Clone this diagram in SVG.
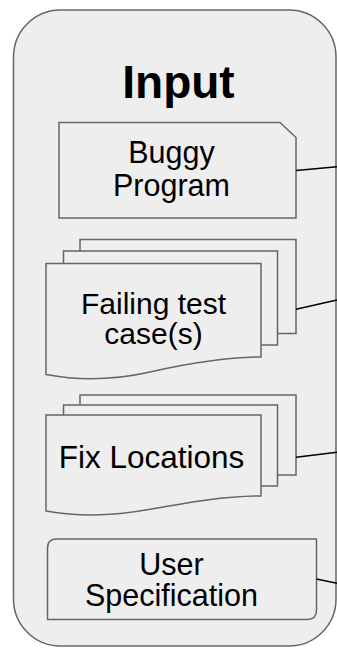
<svg xmlns="http://www.w3.org/2000/svg" width="337" height="649" viewBox="0 0 337 649">
  <style>
    .frame { fill: #eeeeee; stroke: #666666; stroke-width: 1.5; }
    .shape { fill: #eeeeee; stroke: #666666; stroke-width: 1.5; stroke-linejoin: miter; }
    .label { font-family: "Liberation Sans", Arial, Helvetica, sans-serif; font-size: 30.5px; fill: #000000; text-anchor: middle; }
    .title { font-family: "Liberation Sans", Arial, Helvetica, sans-serif; font-size: 46px; font-weight: bold; fill: #000000; text-anchor: middle; }
    .edge { fill: none; stroke: #000000; stroke-width: 1.4; }
  </style>

  <!-- Input container -->
  <g id="input-group">
    <rect class="frame" x="13.5" y="10" width="322.5" height="636" rx="47" ry="47"/>
    <text class="title" x="178.5" y="98">Input</text>
  </g>

  <!-- Buggy Program: card with a clipped top-right corner -->
  <g id="buggy-program">
    <path class="shape" d="M59,122.5 H280 L296,137.5 V218 H59 Z"/>
    <text class="label" x="171.5" y="163">Buggy</text>
    <text class="label" x="171.5" y="195.5">Program</text>
  </g>

  <!-- Failing test case(s): stacked documents -->
  <g id="failing-tests">
    <rect class="shape" x="80" y="239.5" width="216" height="94"/>
    <rect class="shape" x="63.5" y="251" width="214" height="94"/>
    <path class="shape" d="M46,263.5 H261 V357 C225,357 190,363 150,372 C110,381 75,380 46,374.5 Z"/>
    <text class="label" x="153.5" y="314" style="font-size:30px">Failing test</text>
    <text class="label" x="153.5" y="344" style="font-size:30px">case(s)</text>
  </g>

  <!-- Fix Locations: stacked documents -->
  <g id="fix-locations">
    <rect class="shape" x="80" y="395" width="216" height="80"/>
    <rect class="shape" x="63.5" y="405" width="214" height="81"/>
    <path class="shape" d="M46,415 H261 V496 C225,496 190,502 150,509.3 C110,516.8 75,516 46,511 Z"/>
    <text class="label" x="151.5" y="467.5" style="font-size:31.5px">Fix Locations</text>
  </g>

  <!-- User Specification -->
  <g id="user-specification">
    <path class="shape" d="M56.5,539 H316.5 V610 Q316.5,619.5 307,619.5 H47.5 V548 Q47.5,539 56.5,539 Z"/>
    <text class="label" x="171.5" y="574.5">User</text>
    <text class="label" x="171.5" y="605.5">Specification</text>
  </g>

  <!-- Outgoing connectors -->
  <g id="connectors">
    <line class="edge" x1="296" y1="170.5" x2="337" y2="166.8"/>
    <line class="edge" x1="296" y1="309.3" x2="337" y2="300"/>
    <line class="edge" x1="296" y1="457.3" x2="337" y2="452.3"/>
    <line class="edge" x1="316.5" y1="579" x2="337" y2="583.2"/>
  </g>
</svg>
